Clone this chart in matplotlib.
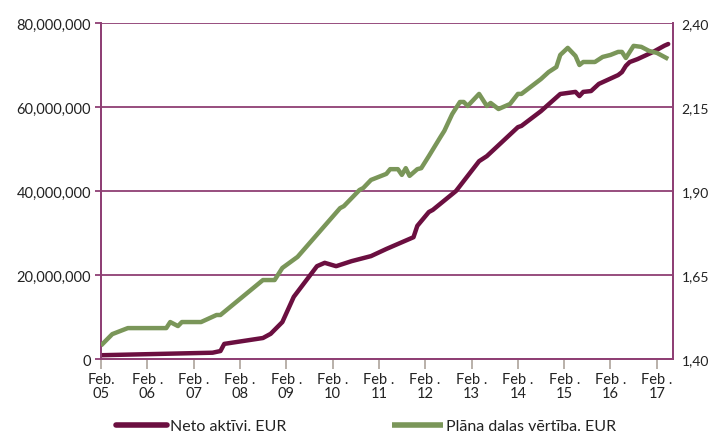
import numpy as np
import pandas as pd
import matplotlib.pyplot as plt

plt.rcParams['font.family'] = ['Lato', 'DejaVu Sans']

# net assets (EUR)
net_dates = ['2005-02', '2007-07', '2007-09', '2007-10', '2008-08', '2008-10',
             '2009-01', '2009-04', '2009-10', '2009-12', '2010-03', '2010-07',
             '2010-12', '2011-04', '2011-11', '2011-12', '2012-03', '2012-04',
             '2012-10', '2013-04', '2013-06', '2014-02', '2014-03', '2014-08',
             '2015-01', '2015-05', '2015-06', '2015-07', '2015-09', '2015-11',
             '2016-04', '2016-05', '2016-06', '2016-07', '2016-09', '2017-01',
             '2017-04', '2017-05']
net_assets = [0.9, 1.5, 1.9, 3.6, 5.0, 6.0,
              8.8, 14.8, 22.1, 22.9, 22.1, 23.3,
              24.5, 26.2, 29.0, 31.7, 35.0, 35.5,
              40.0, 47.1, 48.3, 55.2, 55.5, 59.0,
              63.1, 63.6, 62.6, 63.6, 63.8, 65.5,
              67.6, 68.3, 69.8, 70.7, 71.4, 73.1,
              74.6, 75.0]  # millions

# unit value (EUR)
nav_dates = ['2005-02', '2005-05', '2005-07', '2005-09', '2006-07', '2006-08',
             '2006-10', '2006-11', '2007-04', '2007-08', '2007-09', '2008-08',
             '2008-11', '2009-01', '2009-05', '2010-04', '2010-05', '2010-09',
             '2010-10', '2010-12', '2011-04', '2011-05', '2011-07', '2011-08',
             '2011-09', '2011-10', '2011-12', '2012-01', '2012-03', '2012-06',
             '2012-07', '2012-09', '2012-11', '2012-12', '2013-01', '2013-04',
             '2013-06', '2013-07', '2013-09', '2013-12', '2014-02', '2014-03',
             '2014-08', '2014-10', '2014-12', '2015-01', '2015-03', '2015-05',
             '2015-06', '2015-07', '2015-10', '2015-12', '2016-01', '2016-02',
             '2016-04', '2016-05', '2016-06', '2016-08', '2016-10', '2016-12',
             '2017-02', '2017-05']
nav_values = [1.44, 1.474, 1.483, 1.492, 1.492, 1.510,
              1.498, 1.510, 1.510, 1.531, 1.531, 1.635,
              1.635, 1.671, 1.704, 1.849, 1.855, 1.903,
              1.909, 1.933, 1.951, 1.965, 1.965, 1.948,
              1.968, 1.945, 1.965, 1.968, 2.004, 2.061,
              2.079, 2.129, 2.165, 2.165, 2.153, 2.189,
              2.153, 2.162, 2.144, 2.159, 2.189, 2.189,
              2.233, 2.254, 2.269, 2.305, 2.326, 2.302,
              2.275, 2.284, 2.284, 2.299, 2.302, 2.305,
              2.314, 2.314, 2.296, 2.332, 2.329, 2.317,
              2.311, 2.293]

tick_years = list(range(2005, 2018))
left_ticks = [0, 20e6, 40e6, 60e6, 80e6]
right_ticks = [1.40, 1.65, 1.90, 2.15, 2.40]

maroon = '#6b0f40'
green = '#7a9659'
grid_col = '#8f3f74'
text_col = '#222222'

net_x = pd.to_datetime(net_dates)
nav_x = pd.to_datetime(nav_dates)
net_y = np.array(net_assets) * 1e6

fig = plt.figure(figsize=(7.11, 4.35), dpi=100)
ax = fig.add_axes([0.142, 0.1724, 0.8046, 0.7724])
ax2 = ax.twinx()

ax.plot(net_x, net_y, color=maroon, lw=3.2, solid_capstyle='round',
        solid_joinstyle='round', label='Neto aktīvi. EUR', zorder=3)
ax2.plot(nav_x, nav_values, color=green, lw=3.2, solid_capstyle='butt',
         solid_joinstyle='round', label='Plāna dalas vērtība. EUR', zorder=3)

ax.set_xlim(pd.Timestamp('2005-02-01'), pd.Timestamp('2017-06-08'))
ax.set_ylim(0, 80e6)
ax2.set_ylim(1.40, 2.40)

ax.set_yticks(left_ticks)
ax.set_yticklabels([f'{v:,.0f}' for v in left_ticks])
ax2.set_yticks(right_ticks)
ax2.set_yticklabels([f'{v:.2f}'.replace('.', ',') for v in right_ticks])

xt = [pd.Timestamp(f'{y}-02-01') for y in tick_years]
ax.set_xticks(xt)
xlabels = ['Feb .\n' + str(y)[2:] for y in tick_years]
xlabels[0] = 'Feb.\n05'
ax.set_xticklabels(xlabels, linespacing=1.05)

ax.grid(axis='y', color=grid_col, lw=1.3)
ax.set_axisbelow(True)

for a in (ax, ax2):
    a.spines['top'].set_visible(False)
    for s in ('left', 'right', 'bottom'):
        a.spines[s].set_color(grid_col)
        a.spines[s].set_linewidth(1.3)

ax.tick_params(axis='x', colors='#b3aaa2', length=7, width=1.3, labelcolor=text_col,
               labelsize=10.5, pad=2)
ax.tick_params(axis='y', colors=grid_col, length=4, width=1.3, labelcolor=text_col,
               labelsize=10.5, pad=3)
ax2.tick_params(axis='y', length=0, labelcolor=text_col, labelsize=10, pad=6)

h1, l1 = ax.get_legend_handles_labels()
h2, l2 = ax2.get_legend_handles_labels()
leg = fig.legend(h1 + h2, l1 + l2, loc='center', bbox_to_anchor=(0.515, 0.018), ncol=2,
                 frameon=False, fontsize=11.5, handlelength=3.2, handletextpad=0.2,
                 columnspacing=6.6, labelcolor=text_col, borderpad=0)
for h in leg.legend_handles:
    h.set_linewidth(4)

fig.savefig('out.png', dpi=100)
